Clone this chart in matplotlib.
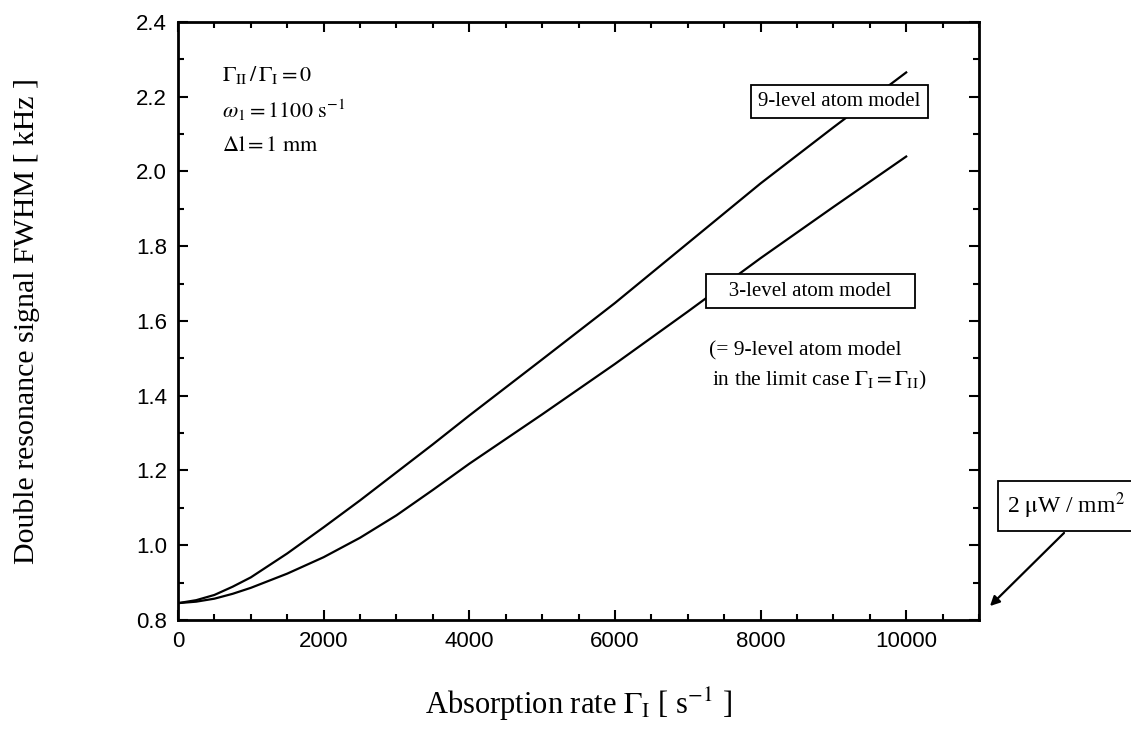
import numpy as np
import matplotlib.pyplot as plt
from matplotlib.ticker import MultipleLocator

plt.rcParams['mathtext.fontset'] = 'stix'

# absorption rate Gamma_I [s^-1]
rate = [0, 250, 500, 750, 1000, 1500, 2000, 2500, 3000, 3500, 4000, 5000, 6000, 7000, 8000, 9000, 10000]
# FWHM [kHz]
fwhm_9level = [0.845, 0.853, 0.867, 0.889, 0.914, 0.978, 1.048, 1.120, 1.195, 1.270, 1.347, 1.497, 1.648, 1.808, 1.968, 2.118, 2.265]
fwhm_3level = [0.845, 0.849, 0.857, 0.870, 0.886, 0.924, 0.968, 1.020, 1.080, 1.148, 1.218, 1.350, 1.485, 1.625, 1.768, 1.905, 2.040]

serif = 'Liberation Serif'
sans = 'Liberation Sans'

fig = plt.figure(figsize=(11.31, 7.33), dpi=100)
ax = fig.add_axes([0.1574, 0.1542, 0.7082, 0.8158])

ax.plot(rate, fwhm_9level, color='black', lw=1.6, zorder=2)
ax.plot(rate, fwhm_3level, color='black', lw=1.6, zorder=2)

ax.set_xlim(0, 11000)
ax.set_ylim(0.8, 2.4)
ax.xaxis.set_major_locator(MultipleLocator(2000))
ax.xaxis.set_minor_locator(MultipleLocator(500))
ax.yaxis.set_major_locator(MultipleLocator(0.2))
ax.yaxis.set_minor_locator(MultipleLocator(0.1))
ax.xaxis.set_major_formatter(lambda v, p: f"{v:.0f}" if v <= 10000 else "")
ax.yaxis.set_major_formatter(lambda v, p: f"{v:.1f}")

ax.tick_params(which='both', direction='in', top=True, right=True, width=1.5)
ax.tick_params(which='major', length=7.5, pad=8, labelsize=16)
ax.tick_params(which='minor', length=4)
for lab in ax.get_xticklabels() + ax.get_yticklabels():
    lab.set_fontfamily(sans)
for s in ax.spines.values():
    s.set_linewidth(2)

ax.set_xlabel(r'Absorption rate $\Gamma_{\mathrm{I}}$ [ s$^{\mathrm{-1}}$ ]', fontsize=22, family=serif)
ax.xaxis.set_label_coords(0.5, -0.11)
ax.set_ylabel('Double resonance signal FWHM [ kHz ]', fontsize=21.5, family=serif)
ax.yaxis.set_label_coords(-0.172, 0.5)

# parameters, top left
ax.text(0.055, 0.911, r'$\Gamma_{\mathrm{II}}\,/\,\Gamma_{\mathrm{I}} = 0$', transform=ax.transAxes,
        fontsize=16, va='center', ha='left')
ax.text(0.055, 0.852, r'$\omega_{1} = 1100\ \mathrm{s}^{-1}$', transform=ax.transAxes,
        fontsize=16, va='center', ha='left')
ax.text(0.055, 0.795, r'$\Delta\mathrm{l} = 1\ \mathrm{mm}$', transform=ax.transAxes,
        fontsize=16, va='center', ha='left')

box = dict(boxstyle='square,pad=0.35', facecolor='white', edgecolor='black', lw=1.3)
ax.text(9080, 2.187, '9-level atom model', fontsize=15, family=serif,
        ha='center', va='center', bbox=box, zorder=3)
ax.text(8685, 1.68, '   3-level atom model   ', fontsize=15, family=serif,
        ha='center', va='center', bbox=box, zorder=3)
ax.text(7290, 1.52, '(= 9-level atom model', fontsize=15.5, family=serif,
        ha='left', va='center')
ax.text(7330, 1.44, r'in the limit case $\Gamma_{\mathrm{I}} = \Gamma_{\mathrm{II}}$)', fontsize=15.5,
        family=serif, ha='left', va='center')

# intensity marker, outside the frame on the right
fig.text(1007, 733 - 506, r'2 $\mathrm{\mu}$W / mm$^2$', transform=None, fontsize=17, family=serif,
         ha='left', va='center',
         bbox=dict(boxstyle='square,pad=0.4', facecolor='white', edgecolor='black', lw=1.3))
ax.annotate('', xy=(988, 733 - 608), xycoords='figure pixels',
            xytext=(1066, 733 - 531), textcoords='figure pixels',
            arrowprops=dict(arrowstyle='-|>', color='black', lw=1.6, mutation_scale=14))

fig.savefig('out.png', dpi=100)
